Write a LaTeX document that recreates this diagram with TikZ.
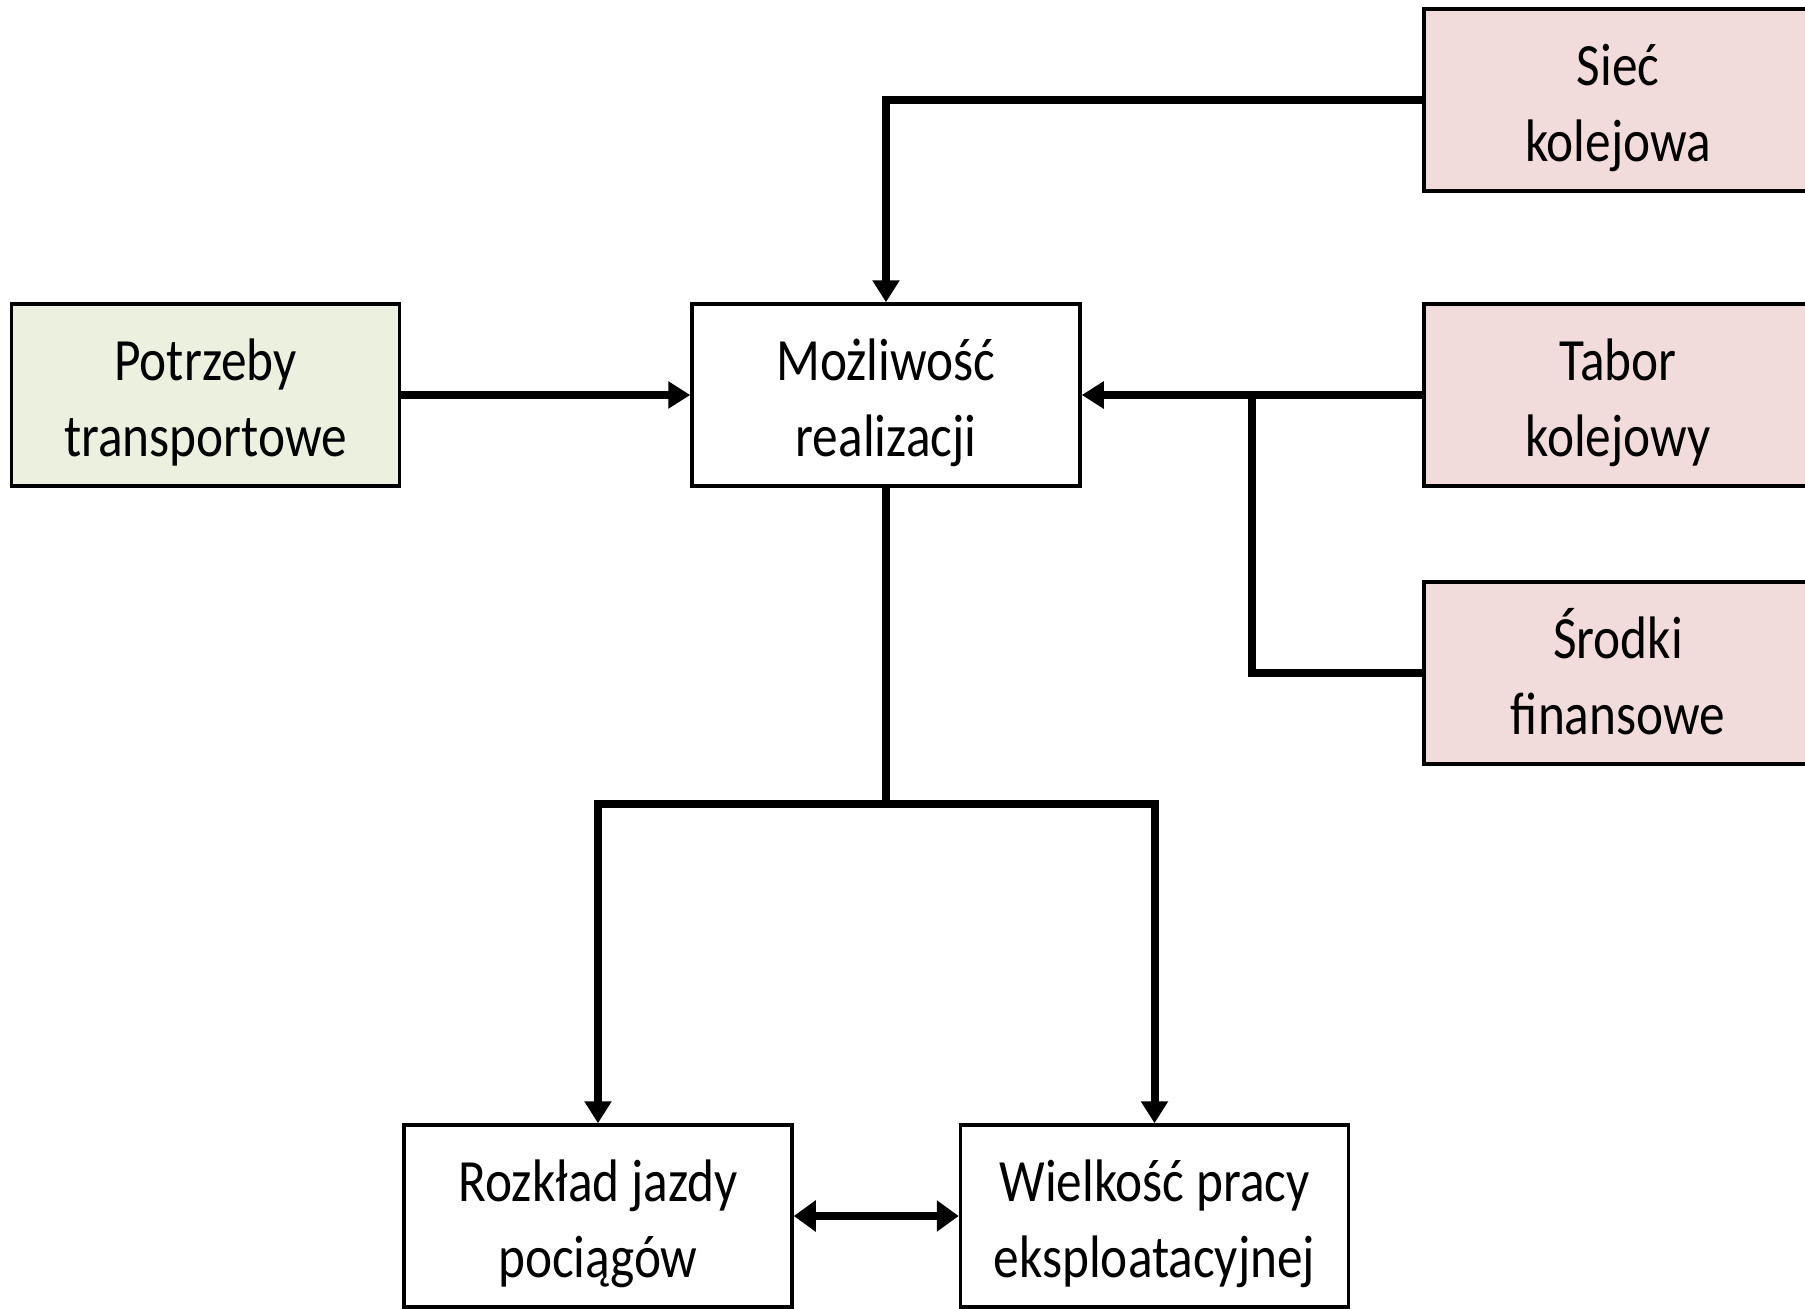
\documentclass[tikz,border=0pt]{standalone}
\usepackage{fontspec}
\setmainfont{Carlito}[FakeStretch=0.855]
\usetikzlibrary{arrows.meta}
\definecolor{pinkfill}{HTML}{F2DCDB}
\definecolor{greenfill}{HTML}{EBF1DE}
\newcommand{\twolines}[2]{\rule{0pt}{60pt}#1\\#2\rule[-14pt]{0pt}{14pt}}
\tikzset{
  box/.style={draw=black, line width=3.5pt, minimum width=388pt, minimum height=182pt,
    align=center, inner sep=0pt, font=\fontsize{60}{76}\selectfont},
  pinkbox/.style={box, fill=pinkfill},
  greenbox/.style={box, fill=greenfill},
  wire/.style={line width=8pt, line join=miter},
  conn/.style={wire, -{Triangle[length=22pt,width=26pt]}},
  dconn/.style={wire, {Triangle[length=22pt,width=30pt]}-{Triangle[length=22pt,width=30pt]}}
}
\begin{document}
\begin{tikzpicture}[x=1pt,y=-1pt]
\useasboundingbox[fill=white] (0,0) rectangle (1805,1309);
\node[pinkbox] (siec) at (1618,100) {\twolines{Sieć}{kolejowa}};
\node[greenbox] (potr) at (205.5,395) {\twolines{Potrzeby}{transportowe}};
\node[box] (mozl) at (886,395) {\twolines{Możliwość}{realizacji}};
\node[pinkbox] (tabor) at (1618,395) {\twolines{Tabor}{kolejowy}};
\node[pinkbox] (srodki) at (1618,673) {\twolines{Środki}{finansowe}};
\node[box] (rozk) at (598,1216) {\twolines{Rozkład jazdy}{pociągów}};
\node[box] (wielk) at (1154.5,1216) {\twolines{Wielkość pracy}{eksploatacyjnej}};
\coordinate (j1) at (1252,395);
\coordinate (j2) at (886,804);
\draw[conn] (siec.west) -| (mozl.north);
\draw[conn] (potr.east) -- (mozl.west);
\draw[conn] (tabor.west) -- (mozl.east);
\draw[wire] (srodki.west) -| (j1);
\draw[wire] (mozl.south) -- (j2);
\draw[conn] (j2) -| (rozk.north);
\draw[conn] (j2) -| (wielk.north);
\draw[dconn] (rozk.east) -- (wielk.west);
\end{tikzpicture}
\end{document}
